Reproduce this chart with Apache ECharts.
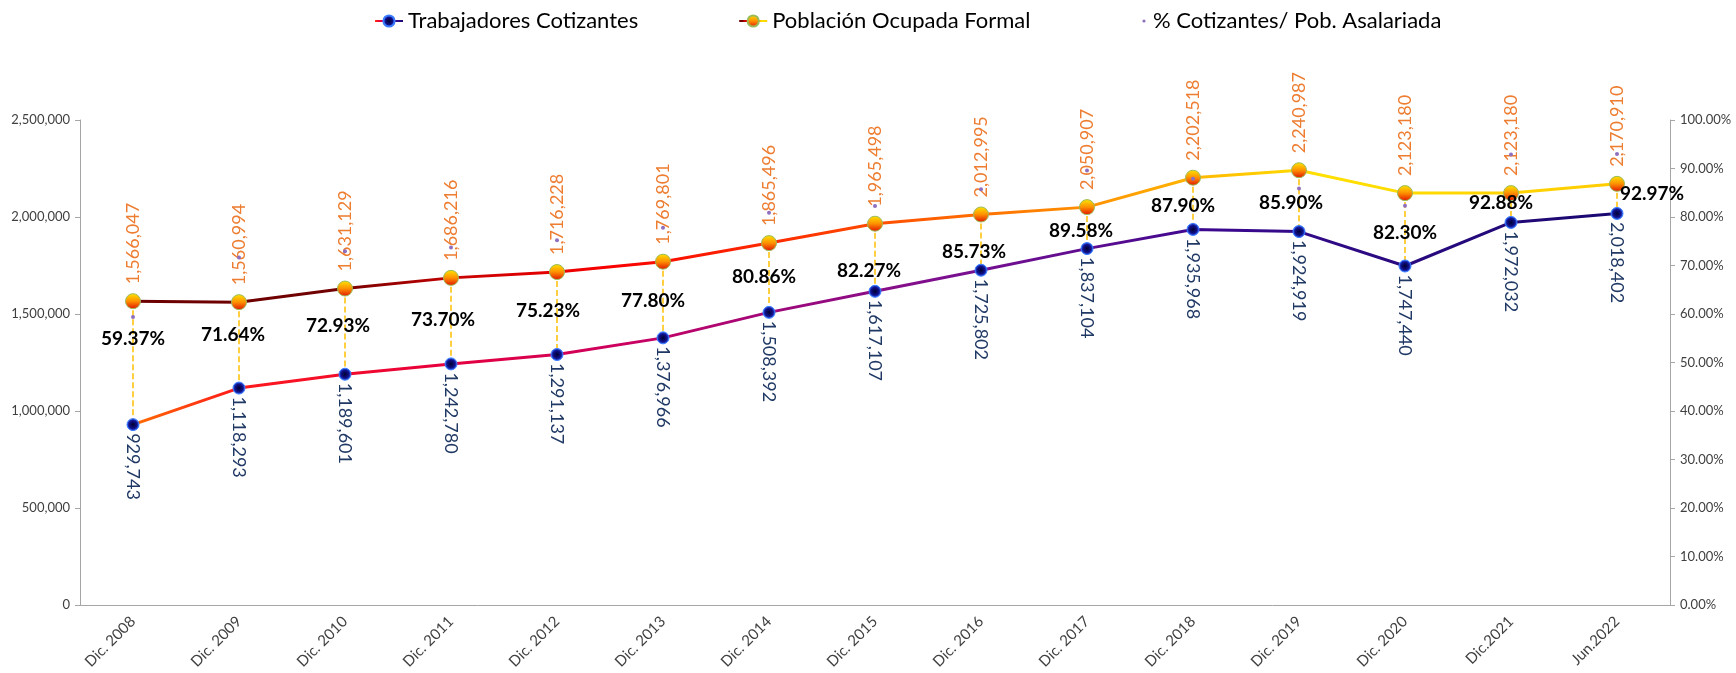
<!DOCTYPE html>
<html>
<head>
<meta charset="utf-8">
<script src="https://cdn.jsdelivr.net/npm/echarts@6/dist/echarts.min.js"></script>
<style>
  html, body { margin: 0; padding: 0; background: #fff; }
  #chart { width: 1736px; height: 673px; }
</style>
</head>
<body>
<div id="chart"></div>
<script>
// datos
var categories = ['Dic. 2008', 'Dic. 2009', 'Dic. 2010', 'Dic. 2011', 'Dic. 2012', 'Dic. 2013', 'Dic. 2014',
  'Dic. 2015', 'Dic. 2016', 'Dic. 2017', 'Dic. 2018', 'Dic. 2019', 'Dic. 2020', 'Dic.2021', 'Jun.2022'];
var cotizantes = [929743, 1118293, 1189601, 1242780, 1291137, 1376966, 1508392, 1617107,
  1725802, 1837104, 1935968, 1924919, 1747440, 1972032, 2018402];
var ocupadaFormal = [1566047, 1560994, 1631129, 1686216, 1716228, 1769801, 1865496, 1965498,
  2012995, 2050907, 2202518, 2240987, 2123180, 2123180, 2170910];
var pctCotizantes = [59.37, 71.64, 72.93, 73.70, 75.23, 77.80, 80.86, 82.27,
  85.73, 89.58, 87.90, 85.90, 82.30, 92.88, 92.97];

// posicion manual de las etiquetas de % (como en el excel)
var pctLabelOffset = [[0, 22], [-6, 77], [-7, 75], [-8, 72], [-9, 71], [-10, 73], [-5, 64], [-6, 65],
  [-7, 63], [-6, 60], [-10, 27], [-8, 14], [0, 27], [-10, 48], [35, 40]];

var FONT = 'Lato, "Noto Sans", sans-serif';

var myChart = echarts.init(document.getElementById('chart'));

function fmtNum(v) {
  return v.toString().replace(/\B(?=(\d{3})+(?!\d))/g, ',');
}

var dropLines = categories.map(function (c, i) {
  return [{ coord: [c, ocupadaFormal[i]] }, { coord: [c, cotizantes[i]] }];
});

var pctData = pctCotizantes.map(function (v, i) {
  return {
    value: v,
    label: { offset: pctLabelOffset[i] }
  };
});

var legendText = { fontSize: 22, color: '#000', fontFamily: FONT };

var option = {
  animation: false,
  textStyle: { fontFamily: FONT },
  legend: [
    {
      top: 5,
      left: 369,
      itemGap: 100,
      itemWidth: 28,
      itemHeight: 14,
      textStyle: legendText,
      data: ['Trabajadores Cotizantes', 'Población Ocupada Formal']
    },
    {
      top: 5,
      left: 1135,
      itemWidth: 8,
      itemHeight: 4,
      textStyle: legendText,
      data: ['% Cotizantes/ Pob. Asalariada']
    }
  ],
  grid: {
    left: 80,
    right: 66,
    top: 120,
    bottom: 68
  },
  xAxis: {
    type: 'category',
    data: categories,
    boundaryGap: true,
    axisLine: { lineStyle: { color: '#A6A6A6', width: 1 } },
    axisTick: { show: false },
    axisLabel: {
      rotate: 45,
      interval: 0,
      color: '#404040',
      fontSize: 15,
      margin: 14
    }
  },
  yAxis: [
    {
      type: 'value',
      min: 0,
      max: 2500000,
      interval: 500000,
      splitLine: { show: false },
      axisLine: { show: true, lineStyle: { color: '#A6A6A6' } },
      axisTick: { show: true, length: 5, lineStyle: { color: '#A6A6A6' } },
      axisLabel: {
        color: '#404040',
        fontSize: 13,
        margin: 10,
        formatter: function (v) { return fmtNum(v); }
      }
    },
    {
      type: 'value',
      min: 0,
      max: 100,
      interval: 10,
      position: 'right',
      splitLine: { show: false },
      axisLine: { show: true, lineStyle: { color: '#A6A6A6' } },
      axisTick: { show: true, length: 5, lineStyle: { color: '#A6A6A6' } },
      axisLabel: {
        color: '#404040',
        fontSize: 13,
        margin: 10,
        formatter: function (v) { return v.toFixed(2) + '%'; }
      }
    }
  ],
  series: [
    {
      name: 'Trabajadores Cotizantes',
      type: 'line',
      data: cotizantes,
      z: 4,
      symbol: 'circle',
      symbolSize: 12,
      lineStyle: {
        width: 3,
        color: new echarts.graphic.LinearGradient(0, 0, 1, 0, [
          { offset: 0, color: '#FF7000' },
          { offset: 0.07, color: '#FF1A1A' },
          { offset: 0.2, color: '#E8003A' },
          { offset: 0.33, color: '#CC0060' },
          { offset: 0.43, color: '#A0087A' },
          { offset: 0.55, color: '#7B1090' },
          { offset: 0.65, color: '#5C0C90' },
          { offset: 0.72, color: '#3C0890' },
          { offset: 0.85, color: '#2A0A80' },
          { offset: 1, color: '#1A0870' }
        ])
      },
      itemStyle: {
        color: new echarts.graphic.RadialGradient(0.5, 0.5, 0.5, [
          { offset: 0, color: '#000030' },
          { offset: 0.6, color: '#10108A' },
          { offset: 1, color: '#2F6BFF' }
        ]),
        borderColor: '#3A7BFF',
        borderWidth: 1
      },
      label: {
        show: true,
        position: 'bottom',
        rotate: -90,
        align: 'left',
        verticalAlign: 'middle',
        distance: 2,
        color: '#1F3864',
        fontSize: 18,
        fontFamily: FONT,
        formatter: function (p) { return fmtNum(p.value); }
      }
    },
    {
      name: 'Población Ocupada Formal',
      type: 'line',
      data: ocupadaFormal,
      z: 3,
      symbol: 'circle',
      symbolSize: 15,
      lineStyle: {
        width: 3,
        color: new echarts.graphic.LinearGradient(0, 0, 1, 0, [
          { offset: 0, color: '#6B0000' },
          { offset: 0.14, color: '#720000' },
          { offset: 0.22, color: '#C80000' },
          { offset: 0.32, color: '#F80000' },
          { offset: 0.45, color: '#FF3300' },
          { offset: 0.56, color: '#FF6A00' },
          { offset: 0.66, color: '#FF9900' },
          { offset: 0.74, color: '#FFC400' },
          { offset: 0.8, color: '#FFE000' },
          { offset: 1, color: '#FFCC00' }
        ])
      },
      itemStyle: {
        color: new echarts.graphic.LinearGradient(0, 0, 0, 1, [
          { offset: 0, color: '#FFE600' },
          { offset: 0.5, color: '#FF9000' },
          { offset: 1, color: '#E01000' }
        ]),
        borderColor: '#9BBB59',
        borderWidth: 1
      },
      label: {
        show: true,
        position: 'top',
        rotate: 90,
        align: 'left',
        verticalAlign: 'middle',
        distance: 9,
        color: '#ED7D31',
        fontSize: 18,
        fontFamily: FONT,
        formatter: function (p) { return fmtNum(p.value); }
      },
      markLine: {
        silent: true,
        symbol: 'none',
        z: 2,
        label: { show: false },
        lineStyle: { type: 'dashed', color: '#FFC000', width: 1.5 },
        emphasis: { disabled: true },
        data: dropLines
      }
    },
    {
      name: '% Cotizantes/ Pob. Asalariada',
      type: 'line',
      yAxisIndex: 1,
      data: pctData,
      z: 5,
      symbol: 'circle',
      symbolSize: 4,
      lineStyle: { width: 0, opacity: 0 },
      itemStyle: { color: '#8E6FC0' },
      label: {
        show: true,
        position: 'inside',
        color: '#000',
        fontSize: 19,
        fontWeight: 'bold',
        fontFamily: FONT,
        formatter: function (p) { return p.value.toFixed(2) + '%'; }
      }
    }
  ]
};

myChart.setOption(option);
</script>
</body>
</html>
